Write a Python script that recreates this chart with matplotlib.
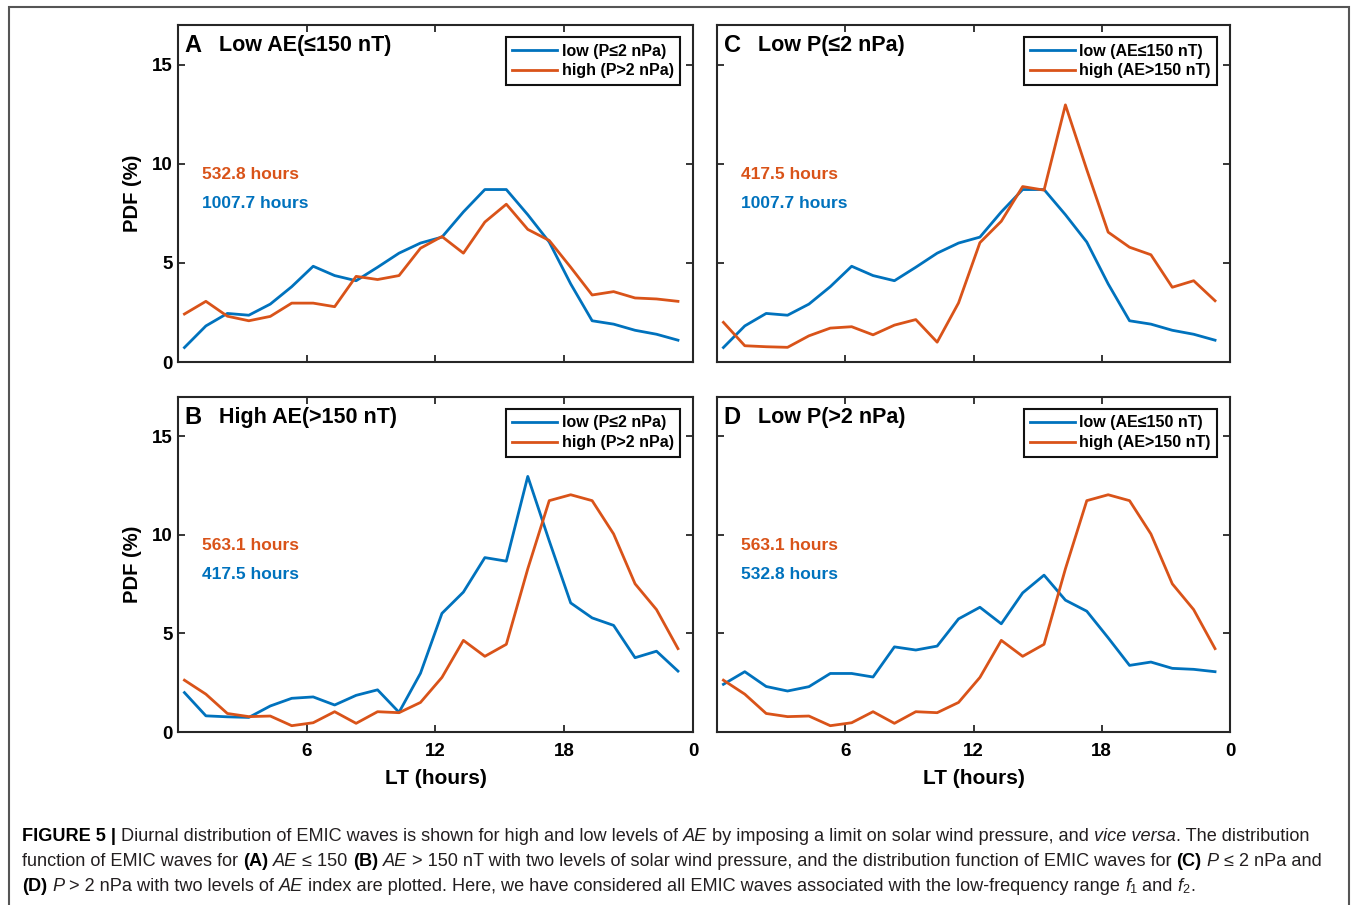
import numpy as np
import matplotlib
matplotlib.use("Agg")
import matplotlib.pyplot as plt
from matplotlib.patches import Rectangle

plt.rcParams['font.family'] = ['Liberation Sans', 'DejaVu Sans']

# local time bins (hours)
lt = np.arange(0.3, 24, 1.0)

# PDF (%) of EMIC waves per LT bin
lowAE_lowP = [0.73, 1.82, 2.45, 2.36, 2.92, 3.80, 4.83, 4.36, 4.10, 4.78, 5.49, 6.00,
              6.30, 7.57, 8.70, 8.70, 7.43, 6.05, 3.94, 2.08, 1.91, 1.60, 1.40, 1.10]
lowAE_highP = [2.42, 3.06, 2.31, 2.08, 2.30, 2.97, 2.97, 2.79, 4.32, 4.16, 4.36, 5.74,
               6.33, 5.49, 7.06, 7.96, 6.69, 6.13, 4.78, 3.38, 3.55, 3.23, 3.18, 3.06]
highAE_lowP = [2.00, 0.82, 0.77, 0.74, 1.32, 1.71, 1.78, 1.37, 1.86, 2.14, 1.00, 2.98,
               6.02, 7.10, 8.85, 8.67, 12.97, 9.70, 6.55, 5.79, 5.41, 3.77, 4.10, 3.09]
highAE_highP = [2.63, 1.92, 0.94, 0.78, 0.81, 0.32, 0.47, 1.03, 0.44, 1.03, 0.98, 1.50,
                2.77, 4.65, 3.84, 4.45, 8.28, 11.74, 12.04, 11.74, 10.05, 7.52, 6.21, 4.23]

xticks = [6, 12, 18, 24]
xticklabels = ['6', '12', '18', '0']
yticks = [0, 5, 10, 15]

panels = [
    # letter, title, blue series, orange series, blue label, orange label, blue hrs, orange hrs
    ('A', 'Low AE(\u2264150 nT)', lowAE_lowP, lowAE_highP,
     'low (P\u22642 nPa)', 'high (P>2 nPa)', '1007.7 hours', '532.8 hours'),
    ('B', 'High AE(>150 nT)', highAE_lowP, highAE_highP,
     'low (P\u22642 nPa)', 'high (P>2 nPa)', '417.5 hours', '563.1 hours'),
    ('C', 'Low P(\u22642 nPa)', lowAE_lowP, highAE_lowP,
     'low (AE\u2264150 nT)', 'high (AE>150 nT)', '1007.7 hours', '417.5 hours'),
    ('D', 'Low P(>2 nPa)', lowAE_highP, highAE_highP,
     'low (AE\u2264150 nT)', 'high (AE>150 nT)', '532.8 hours', '563.1 hours'),
]

blue = '#0072BD'
orange = '#D95319'

W, H = 1355, 905
fig = plt.figure(figsize=(W / 100, H / 100), dpi=100)

# axes boxes in pixels: left, top, right, bottom
boxes = {
    'A': (178, 25, 693, 362),
    'B': (178, 397, 693, 732),
    'C': (717, 25, 1230, 362),
    'D': (717, 397, 1230, 732),
}

for letter, title, yb, yo, lb, lo, hb, ho in panels:
    l, t, r, b = boxes[letter]
    ax = fig.add_axes([l / W, 1 - b / H, (r - l) / W, (b - t) / H])
    ax.plot(lt, yb, color=blue, lw=2.0, label=lb)
    ax.plot(lt, yo, color=orange, lw=2.0, label=lo)
    ax.set_xlim(0, 24)
    ax.set_ylim(0, 17)
    ax.set_xticks(xticks)
    ax.set_yticks(yticks)
    bottom_row = letter in ('B', 'D')
    left_col = letter in ('A', 'B')
    if bottom_row:
        ax.set_xticklabels(xticklabels)
    else:
        ax.set_xticklabels([])
    if left_col:
        ax.set_yticklabels([str(v) for v in yticks])
    else:
        ax.set_yticklabels([])
    ax.tick_params(direction='in', length=5, width=1.3, top=True, right=True,
                   labelsize=13.5, color='#262626')
    ax.tick_params(axis='x', pad=8)
    ax.tick_params(axis='y', pad=4)
    for lab in ax.get_xticklabels() + ax.get_yticklabels():
        lab.set_fontweight('bold')
    for sp in ax.spines.values():
        sp.set_linewidth(1.5)
        sp.set_color('#262626')
    if left_col:
        ax.set_ylabel('PDF (%)', fontsize=14.5, fontweight='bold')
        ax.yaxis.set_label_coords(-0.088, 0.5)
        ax.yaxis.label.set_va('center')
    if bottom_row:
        ax.set_xlabel('LT (hours)', fontsize=15, fontweight='bold')
        ax.xaxis.set_label_coords(0.5, -0.14)
        ax.xaxis.label.set_va('center')

    ax.text(0.013, 0.94, letter, transform=ax.transAxes, fontsize=17,
            fontweight='bold', va='center', ha='left')
    ax.text(0.079, 0.94, title, transform=ax.transAxes, fontsize=15.5,
            fontweight='bold', va='center', ha='left')
    ax.text(0.046, 0.556, ho, transform=ax.transAxes, color=orange,
            fontsize=12.5, fontweight='bold', va='center', ha='left')
    ax.text(0.046, 0.470, hb, transform=ax.transAxes, color=blue,
            fontsize=12.5, fontweight='bold', va='center', ha='left')

    leg = ax.legend(loc='upper right', bbox_to_anchor=(0.975, 0.964),
                    borderaxespad=0, prop={'weight': 'bold', 'size': 11.5},
                    handlelength=2.8, handletextpad=0.3, labelspacing=0.3,
                    borderpad=0.4, fancybox=False, framealpha=1)
    leg.get_frame().set_edgecolor('#111111')
    leg.get_frame().set_linewidth(1.5)

# frame around the figure
fig.add_artist(Rectangle((9 / W, -0.02), (1349 - 9) / W, 1.02 - 7 / H,
                         transform=fig.transFigure, fill=False,
                         edgecolor='#555555', lw=1.5))

# caption, laid out piece by piece
N, B, I = 'n', 'b', 'i'
cap_lines = [
    [('FIGURE 5 |', B), (' Diurnal distribution of EMIC waves is shown for high and low levels of ', N),
     ('AE', I), (' by imposing a limit on solar wind pressure, and ', N), ('vice versa', I),
     ('. The distribution', N)],
    [('function of EMIC waves for ', N), ('(A)', B), (' ', N), ('AE', I), (' \u2264 150 ', N),
     ('(B)', B), (' ', N), ('AE', I),
     (' > 150 nT with two levels of solar wind pressure, and the distribution function of EMIC waves for ', N),
     ('(C)', B), (' ', N), ('P', I), (' \u2264 2 nPa and', N)],
    [('(D)', B), (' ', N), ('P', I), (' > 2 nPa with two levels of ', N), ('AE', I),
     (' index are plotted. Here, we have considered all EMIC waves associated with the low-frequency range ', N),
     ('f', I), ('1', 's'), (' and ', N), ('f', I), ('2', 's'), ('.', N)],
]
cap_y = [836, 861, 886]
cap_size = 13.1
renderer = fig.canvas.get_renderer()


def style_kw(st, size):
    kw = dict(fontsize=size, color='#231f20')
    if st == B:
        kw.update(fontweight='bold', color='black')
    elif st == I:
        kw.update(fontstyle='italic')
    elif st == 's':
        kw.update(fontsize=size * 0.7)
    return kw


def seg_width(s, kw):
    t1 = fig.text(0, 0, 'X' + s + 'X', **kw)
    t2 = fig.text(0, 0, 'XX', **kw)
    w = t1.get_window_extent(renderer).width - t2.get_window_extent(renderer).width
    t1.remove()
    t2.remove()
    return w


for parts, yp in zip(cap_lines, cap_y):
    x = 22.0
    for s, st in parts:
        kw = style_kw(st, cap_size)
        dy = 4 if st == 's' else 0
        fig.text(x / W, 1 - (yp + dy) / H, s, va='center', ha='left', **kw)
        x += seg_width(s, kw)

fig.savefig('out.png', dpi=100)
